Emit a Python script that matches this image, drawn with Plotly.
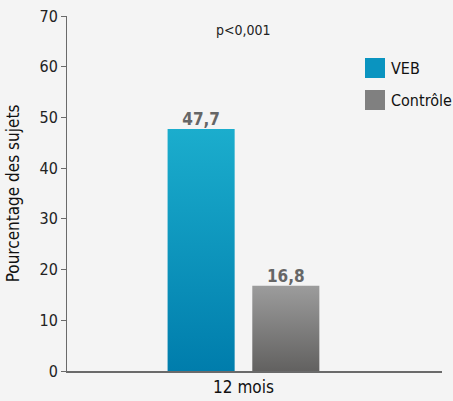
import plotly.graph_objects as go

categories = ["12 mois"]
series_names = ["VEB", "Contrôle"]
values_veb = [47.7]
values_ctrl = [16.8]
value_labels_veb = ["47,7"]
value_labels_ctrl = ["16,8"]
y_ticks = [0, 10, 20, 30, 40, 50, 60, 70]

FONT = "DejaVu Sans Condensed, Liberation Sans Narrow, Roboto, sans-serif"
BG = "#f4f4f4"
AX = "#6a6a6a"

veb_scale = [[0, "#007dac"], [1, "#1badcd"]]
ctrl_scale = [[0, "#626160"], [1, "#9c9c9c"]]
legend_colors = ["#0a94c0", "#808080"]

# bar geometry in x-axis units (category index 0)
BAR_W = 0.38
OFFS = [-0.05 - BAR_W, 0.05]

fig = go.Figure()

series = [
    (series_names[0], values_veb, value_labels_veb, veb_scale),
    (series_names[1], values_ctrl, value_labels_ctrl, ctrl_scale),
]

for i, (name, vals, labs, cs) in enumerate(series):
    for ci, v in enumerate(vals):
        x0 = ci + OFFS[i]
        x1 = x0 + BAR_W
        fig.add_trace(go.Scatter(
            x=[x0, x1, x1, x0, x0], y=[0, 0, v, v, 0],
            mode="lines", line=dict(width=0), fill="toself",
            fillgradient=dict(type="vertical", colorscale=cs, start=0, stop=v),
            showlegend=False, hoverinfo="skip", name=name,
        ))
        fig.add_trace(go.Scatter(
            x=[(x0 + x1) / 2], y=[v], mode="text", text=[labs[ci]],
            textposition="top center",
            textfont=dict(family=FONT, size=17, color="#666666", weight="bold"),
            showlegend=False, hoverinfo="skip",
        ))

# legend drawn as squares + labels
shapes = []
annotations = [dict(text="p<0,001", x=0, xref="x", y=1.0, yref="paper",
                    xanchor="center", yanchor="top", yshift=-4, showarrow=False,
                    font=dict(size=14, color="#222222"))]
for i, name in enumerate(series_names):
    ytop = 58 + i * 32
    shapes.append(dict(type="rect", xref="paper", yref="paper",
                       x0=(365 - 67) / 375, x1=(385 - 67) / 375,
                       y0=(371 - ytop - 20) / 355, y1=(371 - ytop) / 355,
                       fillcolor=legend_colors[i], line=dict(width=0)))
    annotations.append(dict(text=name, xref="paper", yref="paper",
                            x=(389 - 67) / 375, y=(371 - ytop - 10) / 355,
                            xanchor="left", yanchor="middle", showarrow=False,
                            font=dict(size=16, color="#111111")))

fig.update_layout(
    width=453, height=401,
    margin=dict(l=67, r=11, t=16, b=30, autoexpand=False),
    paper_bgcolor=BG, plot_bgcolor=BG,
    font=dict(family=FONT, size=15, color="#222222"),
    showlegend=False,
    xaxis=dict(range=[-1.0, 1.125], tickvals=[0], ticktext=categories,
               showgrid=False, zeroline=False, showline=True, linecolor=AX,
               linewidth=2, ticks="", tickfont=dict(size=17, color="#111111"),
               automargin=False, fixedrange=True),
    yaxis=dict(range=[0, 70], tickvals=y_ticks, showgrid=False, zeroline=False,
               showline=True, linecolor=AX, linewidth=1, ticks="outside",
               ticklen=5, tickcolor=AX, tickfont=dict(size=16, color="#222222"),
               title=dict(text="Pourcentage des sujets", font=dict(size=17, color="#111111")),
               automargin=False, fixedrange=True),
    shapes=shapes,
    annotations=annotations,
)

fig.write_html("out.html")
